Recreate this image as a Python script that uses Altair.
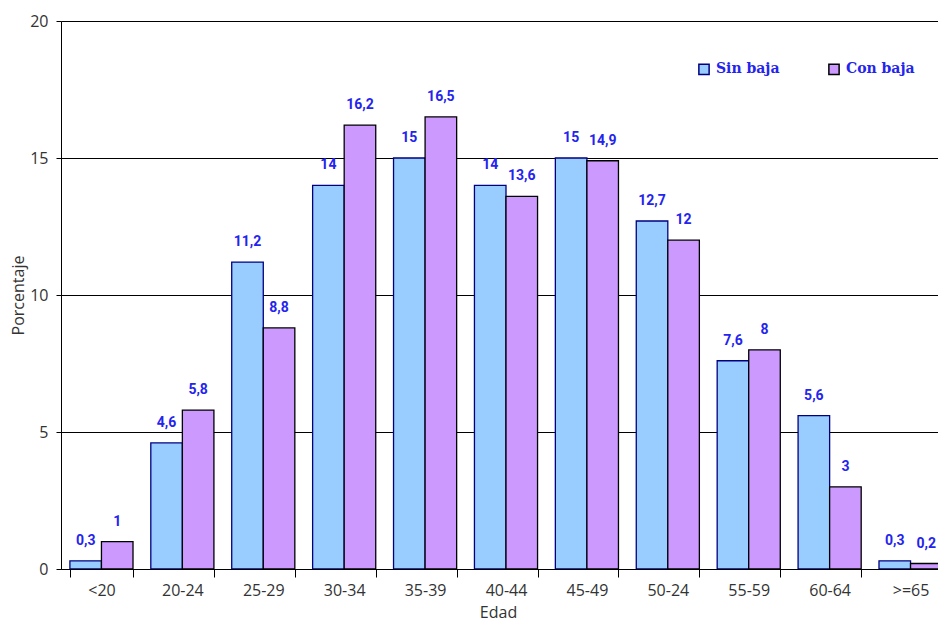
import altair as alt
import pandas as pd

categories = ["<20", "20-24", "25-29", "30-34", "35-39", "40-44", "45-49",
              "50-24", "55-59", "60-64", ">=65"]
sin_baja = [0.3, 4.6, 11.2, 14, 15, 14, 15, 12.7, 7.6, 5.6, 0.3]
con_baja = [1, 5.8, 8.8, 16.2, 16.5, 13.6, 14.9, 12, 8, 3, 0.2]
series_names = ["Sin baja", "Con baja"]

rows = []
for c, a, b in zip(categories, sin_baja, con_baja):
    rows.append({"edad": c, "serie": series_names[0], "valor": a})
    rows.append({"edad": c, "serie": series_names[1], "valor": b})
df = pd.DataFrame(rows)

axis_font = "Open Sans"
axis_color = "#333333"
label_color = "#2424EE"

x_enc = alt.X(
    "edad:N",
    sort=categories,
    scale=alt.Scale(range=[0, 890], paddingInner=0.22, paddingOuter=0.11),
    axis=alt.Axis(
        title="Edad",
        labelAngle=0,
        tickBand="extent",
        tickSize=8,
        tickColor="black",
        domainColor="black",
        labelPadding=5,
        labelFont=axis_font,
        labelFontSize=16,
        labelColor=axis_color,
        titleFont=axis_font,
        titleFontSize=16,
        titleFontWeight="normal",
        titleColor=axis_color,
        titleX=437,
        titleY=48,
        titleAlign="center",
        titleBaseline="alphabetic",
        grid=False,
    ),
)
xoff = alt.XOffset("serie:N", sort=series_names)

y_enc = alt.Y(
    "valor:Q",
    scale=alt.Scale(domain=[0, 20], nice=False),
    axis=alt.Axis(
        title="Porcentaje",
        values=[0, 5, 10, 15, 20],
        grid=True,
        gridColor="black",
        gridOpacity=1,
        gridWidth=1,
        tickSize=5,
        tickColor="black",
        domainColor="black",
        labelPadding=8,
        labelFont=axis_font,
        labelFontSize=16,
        labelColor=axis_color,
        titleFont=axis_font,
        titleFontSize=16,
        titleFontWeight="normal",
        titleColor=axis_color,
        titleX=-43,
        titleY=274,
        titleAlign="center",
        titleBaseline="middle",
        titleAngle=-90,
    ),
)

bars = alt.Chart(df).mark_bar(strokeWidth=1.3, clip=True).encode(
    x=x_enc,
    xOffset=xoff,
    y=y_enc,
    fill=alt.Fill(
        "serie:N",
        sort=series_names,
        scale=alt.Scale(domain=series_names, range=["#99CCFF", "#CC99FF"]),
        legend=alt.Legend(
            title=None,
            orient="none",
            legendX=636,
            legendY=41,
            direction="horizontal",
            symbolType="square",
            symbolSize=105,
            symbolStrokeColor="#111133",
            symbolStrokeWidth=1.5,
            labelFont="DejaVu Serif",
            labelFontWeight="bold",
            labelFontSize=14,
            labelColor=label_color,
            labelOffset=5,
            columnPadding=45,
        ),
    ),
    stroke=alt.Stroke(
        "serie:N",
        scale=alt.Scale(domain=series_names, range=["#000080", "#000000"]),
        legend=None,
    ),
)

texts = alt.Chart(df).transform_calculate(
    etiqueta="replace(toString(datum.valor), '.', ',')"
).mark_text(
    font="Roboto, 'Liberation Sans', sans-serif",
    fontWeight="bold",
    fontSize=14,
    color=label_color,
    baseline="alphabetic",
    dy=-16,
).encode(
    x=alt.X("edad:N", sort=categories),
    xOffset=xoff,
    y="valor:Q",
    text="etiqueta:N",
)

chart = alt.layer(bars, texts).properties(
    width=877,
    height=548,
    autosize=alt.AutoSizeParams(type="none"),
    padding={"left": 53, "top": 13, "right": 0, "bottom": 53},
).configure_view(stroke=None).configure(background="white")

chart.save("out.html", embed_options={"renderer": "svg", "actions": False})
